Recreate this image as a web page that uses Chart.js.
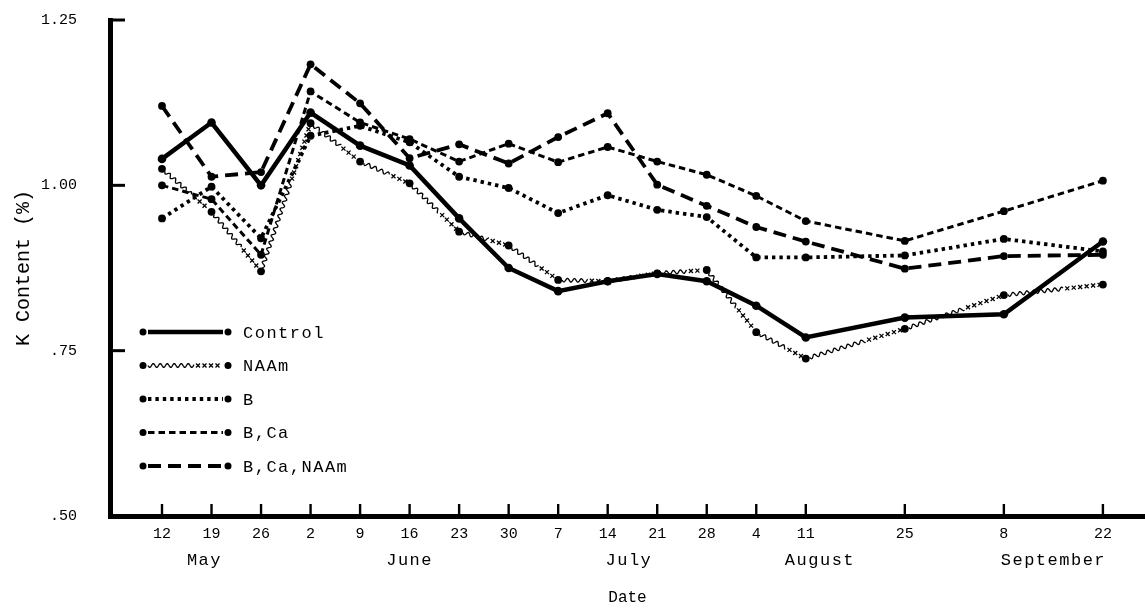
<!DOCTYPE html>
<html>
<head>
<meta charset="utf-8">
<title>K Content by Date</title>
<script src="https://cdn.jsdelivr.net/npm/chart.js@4.4.1/dist/chart.umd.min.js"></script>
<style>
  html, body { margin: 0; padding: 0; background: #ffffff; }
  #wrap { width: 1145px; height: 608px; position: relative; }
</style>
</head>
<body>
<div id="wrap"><canvas id="chart" width="1145" height="608"></canvas></div>
<script>
// Sampling dates (month-day) and the day numbers printed under the axis
const sampleDates = ['05-12','05-19','05-26','06-02','06-09','06-16','06-23','06-30',
                     '07-07','07-14','07-21','07-28','08-04','08-11','08-25','09-08','09-22'];
const dayTickLabels = ['12','19','26','2','9','16','23','30','7','14','21','28','4','11','25','8','22'];

// Month names and the date each name is centred on
const monthNames = ['May','June','July','August','September'];
const monthLabelAt = ['05-18','06-16','07-17','08-13','09-15'];

// Y axis ticks
const yTickValues = [0.50, 0.75, 1.00, 1.25];
const yTickLabels = ['.50', '.75', '1.00', '1.25'];

// Treatments
const seriesNames = ['Control', 'NAAm', 'B', 'B,Ca', 'B,Ca,NAAm'];

// K content (%) per sampling date
const control  = [1.040, 1.095, 1.000, 1.110, 1.060, 1.030, 0.950, 0.875, 0.840, 0.855, 0.866, 0.855, 0.818, 0.770, 0.800, 0.805, 0.915];
const naam     = [1.025, 0.960, 0.870, 1.094, 1.036, 1.003, 0.930, 0.909, 0.857, 0.855, 0.867, 0.872, 0.778, 0.738, 0.783, 0.834, 0.850];
const boron    = [0.950, 0.998, 0.920, 1.075, 1.090, 1.065, 1.013, 0.996, 0.958, 0.985, 0.963, 0.952, 0.891, 0.891, 0.894, 0.919, 0.900];
const bCa      = [1.000, 0.979, 0.895, 1.142, 1.095, 1.070, 1.036, 1.063, 1.035, 1.058, 1.036, 1.016, 0.984, 0.946, 0.916, 0.961, 1.007];
const bCaNaam  = [1.120, 1.013, 1.020, 1.183, 1.124, 1.041, 1.062, 1.033, 1.073, 1.109, 1.001, 0.969, 0.937, 0.915, 0.874, 0.893, 0.895];

const FONT = "'Liberation Mono', 'Courier New', monospace";

// Days since the first sampling date
function dayOf(md) {
  const [m, d] = md.split('-').map(Number);
  return (Date.UTC(1970, m - 1, d) - Date.UTC(1970, 4, 12)) / 86400000;
}
const xDays = sampleDates.map(dayOf);

function toPoints(values) {
  return values.map((v, i) => ({ x: xDays[i], y: v }));
}

// Wavy stroke followed by small crosses, used for the NAAm treatment
function drawWavySegment(ctx, x0, y0, x1, y1, skipStart, skipEnd) {
  const dx = x1 - x0, dy = y1 - y0;
  const L = Math.hypot(dx, dy);
  if (L < 1) return;
  const ux = dx / L, uy = dy / L, nx = -uy, ny = ux;
  const amp = 1.8, wave = 7;
  const waveEnd = Math.max(skipStart, L * 0.6);
  ctx.beginPath();
  let first = true;
  for (let t = skipStart; t <= waveEnd; t += 0.5) {
    const o = amp * Math.sin(2 * Math.PI * (t - skipStart) / wave);
    const px = x0 + ux * t + nx * o, py = y0 + uy * t + ny * o;
    if (first) { ctx.moveTo(px, py); first = false; } else { ctx.lineTo(px, py); }
  }
  ctx.stroke();
  const s = 2;
  for (let t = waveEnd + 4; t < L - skipEnd; t += 6.5) {
    const cx = x0 + ux * t, cy = y0 + uy * t;
    ctx.beginPath();
    ctx.moveTo(cx - s, cy - s); ctx.lineTo(cx + s, cy + s);
    ctx.moveTo(cx + s, cy - s); ctx.lineTo(cx - s, cy + s);
    ctx.stroke();
  }
}

const naamIndex = 1;

const styles = [
  { borderWidth: 4.5, borderDash: [],        radius: 4.3 },
  { borderWidth: 0,   borderDash: [],        radius: 3.9 },
  { borderWidth: 3.8, borderDash: [3.4, 4],  radius: 3.9 },
  { borderWidth: 3.0, borderDash: [6.5, 4],  radius: 3.9 },
  { borderWidth: 3.8, borderDash: [13, 7],   radius: 3.9 }
];

const seriesValues = [control, naam, boron, bCa, bCaNaam];

const datasets = seriesValues.map((vals, i) => ({
  label: seriesNames[i],
  data: toPoints(vals),
  showLine: i !== naamIndex,
  borderColor: '#000',
  borderWidth: styles[i].borderWidth,
  borderDash: styles[i].borderDash,
  borderCapStyle: 'butt',
  borderJoinStyle: 'miter',
  pointRadius: styles[i].radius,
  pointHoverRadius: styles[i].radius,
  pointBackgroundColor: '#000',
  pointBorderWidth: 0,
  tension: 0,
  fill: false
}));

const decorations = {
  id: 'decorations',
  afterDatasetsDraw(chart) {
    const ctx = chart.ctx;
    // NAAm line between its points
    const meta = chart.getDatasetMeta(naamIndex);
    ctx.save();
    ctx.strokeStyle = '#000';
    ctx.lineWidth = 1.3;
    for (let i = 0; i < meta.data.length - 1; i++) {
      const a = meta.data[i], b = meta.data[i + 1];
      drawWavySegment(ctx, a.x, a.y, b.x, b.y, 4, 3);
    }
    ctx.restore();
  },
  afterDraw(chart) {
    const ctx = chart.ctx;
    const xs = chart.scales.x, ys = chart.scales.y;
    const area = chart.chartArea;
    ctx.save();
    ctx.strokeStyle = '#000';
    ctx.fillStyle = '#000';

    // inward tick marks on the y axis
    ctx.lineWidth = 3;
    yTickValues.forEach(v => {
      if (v === ys.min) return;
      const y = ys.getPixelForValue(v);
      ctx.beginPath();
      ctx.moveTo(area.left, y);
      ctx.lineTo(area.left + 15, y);
      ctx.stroke();
    });

    // upward tick marks on the x axis
    ctx.lineWidth = 2.4;
    xDays.forEach(d => {
      const x = xs.getPixelForValue(d);
      ctx.beginPath();
      ctx.moveTo(x, area.bottom);
      ctx.lineTo(x, area.bottom - 12);
      ctx.stroke();
    });

    // month names
    ctx.font = '17px ' + FONT;
    if ('letterSpacing' in ctx) ctx.letterSpacing = '1.5px';
    ctx.textAlign = 'center';
    ctx.textBaseline = 'middle';
    monthNames.forEach((name, i) => {
      const x = xs.getPixelForValue(dayOf(monthLabelAt[i]));
      ctx.fillText(name, x, 560);
    });

    // legend
    const lx0 = 143, lx1 = 228, ly0 = 332, lstep = 33.5;
    ctx.textAlign = 'left';
    ctx.font = '17px ' + FONT;
    seriesNames.forEach((name, i) => {
      const y = ly0 + i * lstep;
      const st = styles[i];
      if (i === naamIndex) {
        ctx.lineWidth = 1.3;
        ctx.setLineDash([]);
        drawWavySegment(ctx, lx0, y, lx1, y, 5, 5);
      } else {
        ctx.lineWidth = st.borderWidth;
        ctx.setLineDash(st.borderDash);
        ctx.lineCap = 'butt';
        ctx.beginPath();
        ctx.moveTo(lx0 + 5, y);
        ctx.lineTo(lx1 - 5, y);
        ctx.stroke();
        ctx.setLineDash([]);
      }
      [lx0, lx1].forEach(px => {
        ctx.beginPath();
        ctx.arc(px, y, 3.5, 0, Math.PI * 2);
        ctx.fill();
      });
      ctx.fillText(name, 243, y + 1);
    });
    ctx.restore();
  }
};

new Chart(document.getElementById('chart'), {
  type: 'line',
  data: { datasets },
  options: {
    responsive: false,
    devicePixelRatio: 1,
    animation: false,
    events: [],
    layout: { autoPadding: false, padding: { top: 20, right: 0, bottom: 0, left: 0 } },
    plugins: { legend: { display: false }, tooltip: { enabled: false } },
    scales: {
      x: {
        type: 'linear',
        min: -7.35,
        max: 138.95,
        border: { display: true, width: 5, color: '#000' },
        grid: { display: false, drawTicks: false },
        afterBuildTicks: s => { s.ticks = xDays.map(v => ({ value: v })); },
        afterFit: s => { s.height = 92; s.paddingLeft = 0; s.paddingRight = 0; },
        ticks: {
          autoSkip: false, maxRotation: 0, minRotation: 0, padding: 9,
          color: '#000', font: { family: FONT, size: 15 },
          callback: (v, i) => dayTickLabels[i]
        },
        title: {
          display: true, text: 'Date', color: '#000',
          font: { family: FONT, size: 16 }, padding: { top: 0, bottom: 1 }
        }
      },
      y: {
        min: 0.5,
        max: 1.25,
        border: { display: true, width: 5, color: '#000' },
        grid: { display: false, drawTicks: false },
        afterBuildTicks: s => { s.ticks = yTickValues.map(v => ({ value: v })); },
        afterFit: s => { s.width = 110; s.paddingTop = 0; s.paddingBottom = 0; },
        ticks: {
          padding: 33, color: '#000', font: { family: FONT, size: 15 },
          callback: (v, i) => yTickLabels[i]
        },
        title: {
          display: true, text: 'K Content (%)', color: '#000',
          font: { family: FONT, size: 20 }, padding: { top: 12, bottom: 0 }
        }
      }
    }
  },
  plugins: [decorations]
});
</script>
</body>
</html>
